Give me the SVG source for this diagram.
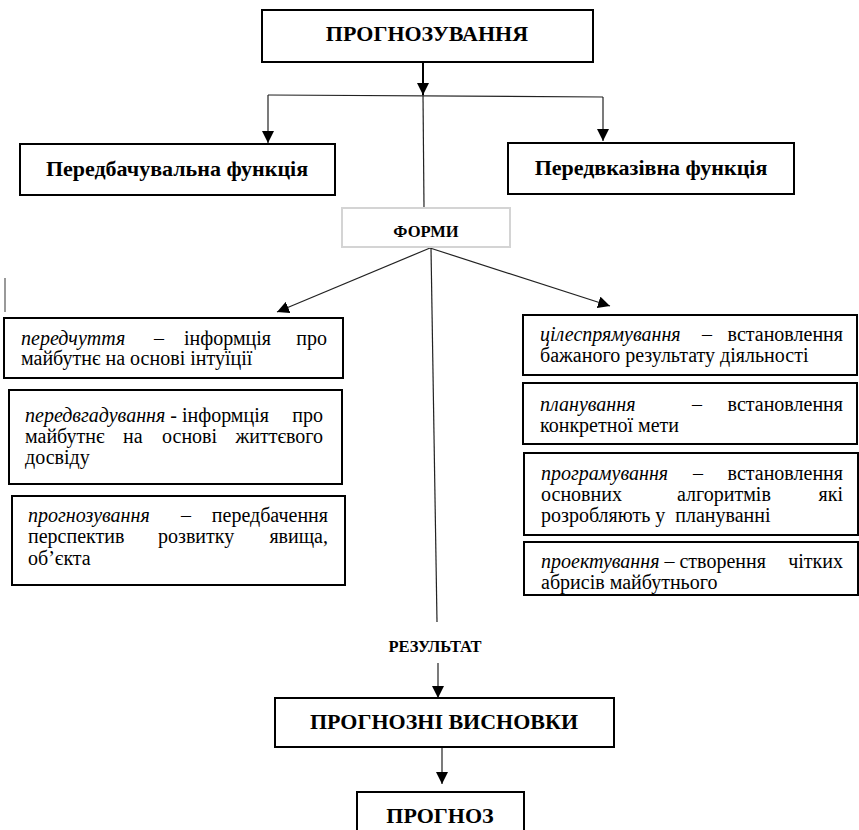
<svg xmlns="http://www.w3.org/2000/svg" width="859" height="830" viewBox="0 0 859 830">
<defs>
<marker id="ah" markerUnits="userSpaceOnUse" markerWidth="12" markerHeight="12" refX="12" refY="6" orient="auto">
<path d="M0,0 L12,6 L0,12 z" fill="#000"/>
</marker>
</defs>
<rect width="859" height="830" fill="#fff"/>

<g id="connectors" stroke="#222" stroke-width="1.2" fill="none">
<line stroke="#000" stroke-width="2" x1="423" y1="62" x2="423" y2="95" marker-end="url(#ah)"/>
<line x1="268" y1="95" x2="603" y2="97"/>
<line x1="268" y1="95" x2="268" y2="143" marker-end="url(#ah)"/>
<line x1="603" y1="97" x2="603" y2="141" marker-end="url(#ah)"/>
<line x1="423" y1="95" x2="424" y2="208"/>
<line x1="430" y1="248" x2="277" y2="312" marker-end="url(#ah)"/>
<line x1="430" y1="248" x2="610" y2="306" marker-end="url(#ah)"/>
<line x1="431" y1="248" x2="437" y2="622"/>
<line x1="438" y1="663" x2="438" y2="698" marker-end="url(#ah)"/>
<line x1="442" y1="747" x2="442" y2="784" marker-end="url(#ah)"/>
<line stroke="#777" stroke-width="1.5" x1="5" y1="278" x2="5" y2="312"/>
</g>

<g id="n-prognozuvannia">
<rect fill="#fff" stroke="#000" stroke-width="2" x="262" y="10" width="331" height="52"/>
<text font-family="Liberation Serif" font-weight="bold" text-anchor="middle" x="427" y="41" font-size="22">ПРОГНОЗУВАННЯ</text>
</g>

<g id="n-peredbach">
<rect fill="#fff" stroke="#000" stroke-width="2" x="20" y="144" width="315" height="51"/>
<text font-family="Liberation Serif" font-weight="bold" text-anchor="middle" x="177" y="176" font-size="22">Передбачувальна функція</text>
</g>

<g id="n-peredvkaz">
<rect fill="#fff" stroke="#000" stroke-width="2" x="508" y="143" width="286" height="51"/>
<text font-family="Liberation Serif" font-weight="bold" text-anchor="middle" x="651" y="175" font-size="22">Передвказівна функція</text>
</g>

<g id="n-formy">
<rect fill="#fff" stroke="#d4d4d4" stroke-width="2" x="342" y="208" width="168" height="39"/>
<text font-family="Liberation Serif" font-weight="bold" text-anchor="middle" x="426" y="237" font-size="16.5">ФОРМИ</text>
</g>

<g id="n-peredchuttia">
<rect fill="#fff" stroke="#000" stroke-width="2" x="4" y="318" width="339" height="60"/>
<text font-family="Liberation Serif" font-size="20" font-style="italic" x="21" y="345">передчуття</text>
<text font-family="Liberation Serif" font-size="20" x="154" y="345">–</text>
<text font-family="Liberation Serif" font-size="20" x="184" y="345">інформція</text>
<text font-family="Liberation Serif" font-size="20" text-anchor="end" x="327" y="345">про</text>
<text font-family="Liberation Serif" font-size="20" x="21" y="365">майбутнє на основі інтуїції</text>
</g>

<g id="n-peredvgaduvannia">
<rect fill="#fff" stroke="#000" stroke-width="2" x="9" y="390" width="333" height="94"/>
<text font-family="Liberation Serif" font-size="20" x="25" y="422"><tspan font-style="italic">передвгадування</tspan> - інформція</text>
<text font-family="Liberation Serif" font-size="20" text-anchor="end" x="323" y="422">про</text>
<text font-family="Liberation Serif" font-size="20" x="25" y="443">майбутнє</text>
<text font-family="Liberation Serif" font-size="20" x="123" y="443">на</text>
<text font-family="Liberation Serif" font-size="20" x="162" y="443">основі</text>
<text font-family="Liberation Serif" font-size="20" text-anchor="end" x="323" y="443">життєвого</text>
<text font-family="Liberation Serif" font-size="20" x="25" y="464">досвіду</text>
</g>

<g id="n-prognozuvannia2">
<rect fill="#fff" stroke="#000" stroke-width="2" x="12" y="496" width="333" height="89"/>
<text font-family="Liberation Serif" font-size="20" font-style="italic" x="28" y="522">прогнозування</text>
<text font-family="Liberation Serif" font-size="20" x="181" y="522">–</text>
<text font-family="Liberation Serif" font-size="20" text-anchor="end" x="328" y="522">передбачення</text>
<text font-family="Liberation Serif" font-size="20" x="28" y="543">перспектив</text>
<text font-family="Liberation Serif" font-size="20" x="158" y="543">розвитку</text>
<text font-family="Liberation Serif" font-size="20" text-anchor="end" x="328" y="543">явища,</text>
<text font-family="Liberation Serif" font-size="20" x="28" y="565">об’єкта</text>
</g>

<g id="n-tsilespriamuvannia">
<rect fill="#fff" stroke="#000" stroke-width="2" x="523" y="315" width="334" height="60"/>
<text font-family="Liberation Serif" font-size="20" font-style="italic" x="540" y="341">цілеспрямування</text>
<text font-family="Liberation Serif" font-size="20" x="702" y="341">–</text>
<text font-family="Liberation Serif" font-size="20" text-anchor="end" x="843" y="341">встановлення</text>
<text font-family="Liberation Serif" font-size="20" x="540" y="362">бажаного результату діяльності</text>
</g>

<g id="n-planuvannia">
<rect fill="#fff" stroke="#000" stroke-width="2" x="523" y="383" width="334" height="61"/>
<text font-family="Liberation Serif" font-size="20" font-style="italic" x="540" y="411">планування</text>
<text font-family="Liberation Serif" font-size="20" x="692" y="411">–</text>
<text font-family="Liberation Serif" font-size="20" text-anchor="end" x="843" y="411">встановлення</text>
<text font-family="Liberation Serif" font-size="20" x="540" y="432">конкретної мети</text>
</g>

<g id="n-prohramuvannia">
<rect fill="#fff" stroke="#000" stroke-width="2" x="524" y="453" width="334" height="82"/>
<text font-family="Liberation Serif" font-size="20" font-style="italic" x="541" y="480">програмування</text>
<text font-family="Liberation Serif" font-size="20" x="693" y="480">–</text>
<text font-family="Liberation Serif" font-size="20" text-anchor="end" x="843" y="480">встановлення</text>
<text font-family="Liberation Serif" font-size="20" x="541" y="501">основних</text>
<text font-family="Liberation Serif" font-size="20" x="677" y="501">алгоритмів</text>
<text font-family="Liberation Serif" font-size="20" text-anchor="end" x="843" y="501">які</text>
<text font-family="Liberation Serif" font-size="20" x="541" y="522" xml:space="preserve">розробляють у  плануванні</text>
</g>

<g id="n-proektuvannia">
<rect fill="#fff" stroke="#000" stroke-width="2" x="524" y="542" width="334" height="53"/>
<text font-family="Liberation Serif" font-size="20" x="541" y="568"><tspan font-style="italic">проектування</tspan> – створення</text>
<text font-family="Liberation Serif" font-size="20" text-anchor="end" x="843" y="568">чітких</text>
<text font-family="Liberation Serif" font-size="20" x="541" y="589">абрисів майбутнього</text>
</g>

<g id="n-rezultat">
<text font-family="Liberation Serif" font-weight="bold" text-anchor="middle" x="435" y="652" font-size="16.5">РЕЗУЛЬТАТ</text>
</g>

<g id="n-vysnovky">
<rect fill="#fff" stroke="#000" stroke-width="2" x="275" y="698" width="339" height="49"/>
<text font-family="Liberation Serif" font-weight="bold" text-anchor="middle" x="444" y="729" font-size="22">ПРОГНОЗНІ ВИСНОВКИ</text>
</g>

<g id="n-prognoz">
<rect fill="#fff" stroke="#000" stroke-width="2" x="357" y="792" width="167" height="50"/>
<text font-family="Liberation Serif" font-weight="bold" text-anchor="middle" x="440" y="823" font-size="22">ПРОГНОЗ</text>
</g>
</svg>
